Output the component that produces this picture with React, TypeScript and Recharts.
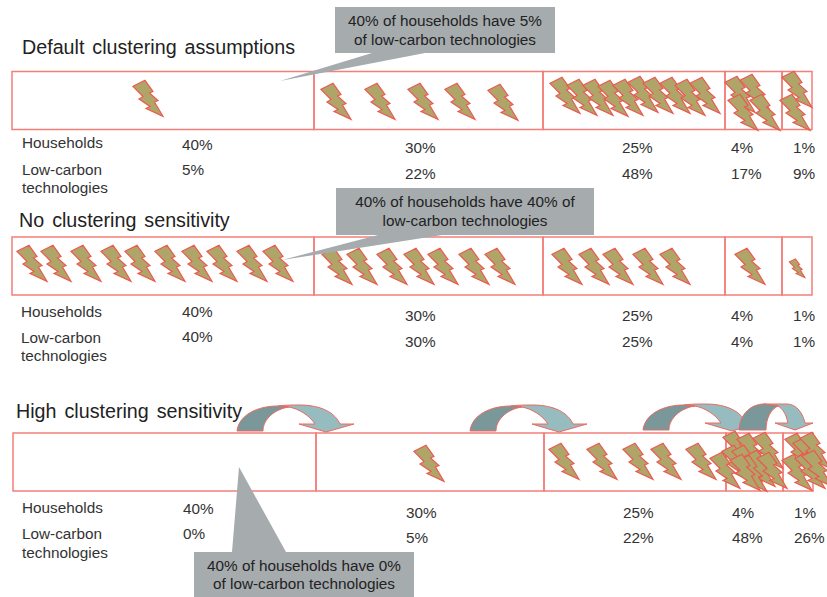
import { ReferenceArea, Scatter, ScatterChart, XAxis, YAxis } from 'recharts';

const WIDTH = 827;
const HEIGHT = 597;
const FONT = '"Liberation Sans", Arial, sans-serif';

type Point = { x: number; y: number };
type Label = Point & { text: string };

const titles = ['Default clustering assumptions', 'No clustering sensitivity', 'High clustering sensitivity'];
const householdShares = ['40%', '30%', '25%', '4%', '1%'];
const defaultTechShares = ['5%', '22%', '48%', '17%', '9%'];
const noClusterTechShares = ['40%', '30%', '25%', '4%', '1%'];
const highClusterTechShares = ['0%', '5%', '22%', '48%', '26%'];

// cell borders of each bar, in axis units
const upperBarEdges = [12, 314, 543, 725, 782, 812];
const lowerBarEdges = [13, 316, 544, 726, 783, 813];

// bolts, one per small share of the technologies
const defaultBolts: Point[] = [
  { x: 148, y: 98 },
  { x: 336, y: 101 }, { x: 380, y: 101 }, { x: 423, y: 101 }, { x: 460, y: 101 }, { x: 503, y: 102 },
  { x: 565, y: 95 }, { x: 582, y: 97 }, { x: 598, y: 97 }, { x: 613, y: 98 }, { x: 628, y: 97 },
  { x: 643, y: 94 }, { x: 658, y: 95 }, { x: 675, y: 95 }, { x: 690, y: 97 }, { x: 705, y: 95 },
  { x: 740, y: 94 }, { x: 755, y: 92 }, { x: 743, y: 112 }, { x: 765, y: 112 },
  { x: 797, y: 89 }, { x: 795, y: 112 },
];
const noClusterBolts: Point[] = [
  { x: 32, y: 263 }, { x: 56, y: 263 }, { x: 86, y: 263 }, { x: 116, y: 263 }, { x: 140, y: 263 },
  { x: 170, y: 263 }, { x: 197, y: 263 }, { x: 222, y: 263 }, { x: 252, y: 263 }, { x: 278, y: 263 },
  { x: 337, y: 266 }, { x: 362, y: 266 }, { x: 392, y: 266 }, { x: 419, y: 266 }, { x: 443, y: 266 },
  { x: 474, y: 266 }, { x: 500, y: 266 },
  { x: 567, y: 266 }, { x: 594, y: 266 }, { x: 618, y: 266 }, { x: 648, y: 266 }, { x: 675, y: 266 },
  { x: 750, y: 266 },
];
const noClusterSmallBolts: Point[] = [{ x: 797, y: 268 }];
const highClusterBolts: Point[] = [
  { x: 429, y: 463 },
  { x: 564, y: 461 }, { x: 602, y: 461 }, { x: 638, y: 461 }, { x: 666, y: 461 }, { x: 701, y: 461 },
  { x: 738, y: 449 }, { x: 752, y: 451 }, { x: 768, y: 450 }, { x: 725, y: 470 }, { x: 737, y: 463 },
  { x: 747, y: 463 }, { x: 760, y: 468 }, { x: 772, y: 470 }, { x: 752, y: 473 }, { x: 745, y: 472 },
  { x: 800, y: 451 }, { x: 797, y: 472 }, { x: 808, y: 455 }, { x: 815, y: 450 }, { x: 810, y: 470 }, { x: 817, y: 468 },
];

const wideArrows: Point[] = [{ x: 237, y: 405 }, { x: 470, y: 405 }, { x: 643, y: 404 }];
const narrowArrows: Point[] = [{ x: 739, y: 404 }];

const defaultCallout = ['40% of households have 5%', 'of low-carbon technologies'];
const noClusterCallout = ['40% of households have 40% of', 'low-carbon technologies'];
const highClusterCallout = ['40% of households have 0%', 'of low-carbon technologies'];

const titleLabels: Label[] = [
  { x: 22, y: 54, text: titles[0] },
  { x: 19, y: 227, text: titles[1] },
  { x: 16, y: 418, text: titles[2] },
];

const shareColumns = [182, 405, 622, 731, 793];

// one table per bar: row heading position, then the two rows of shares
function tableLabels(headX: number, headY: number[], rowY: number[][], shift: number, shares: string[]): Label[] {
  const out: Label[] = [
    { x: headX, y: headY[0], text: 'Households' },
    { x: headX, y: headY[1], text: 'Low-carbon' },
    { x: headX, y: headY[2], text: 'technologies' },
  ];
  shareColumns.forEach((col, i) => {
    const topY = i === 0 ? rowY[0][0] : rowY[0][1];
    const lowY = i === 0 ? rowY[1][0] : rowY[1][1];
    out.push({ x: col + shift, y: topY, text: householdShares[i] });
    out.push({ x: col + shift, y: lowY, text: shares[i] });
  });
  return out;
}

const tableText: Label[] = [
  ...tableLabels(22, [148, 175, 193], [[150, 153], [175, 179]], 0, defaultTechShares),
  ...tableLabels(21, [317, 343, 361], [[317, 321], [342, 347]], 0, noClusterTechShares),
  ...tableLabels(22, [513, 539, 558], [[514, 518], [539, 543]], 1, highClusterTechShares),
];

const calloutAnchors = [
  { x: 335, y: 7, lines: defaultCallout, textX: 110, textY: [19, 38], shape: '0,0 220,0 220,46 90,46 -55,74 37,46 0,46' },
  { x: 336, y: 188, lines: noClusterCallout, textX: 129, textY: [19, 38], shape: '0,0 258,0 258,47 106,47 -54,72 42,47 0,47' },
  { x: 194, y: 552, lines: highClusterCallout, textX: 110, textY: [19, 37], shape: '0,0 38,0 45,-85 92,0 220,0 220,45 0,45' },
];

const boltOutline = '-15,-11.7 -3,-17.7 5,-6.5 1.5,-5 10,2.5 6.5,4 15,18.3 -2,10.5 2,8.5 -9,1 -5,-1.5';

const Bolt = ({ cx, cy }: any) => (
  <polygon transform={`translate(${cx},${cy})`} points={boltOutline} fill="#b0a568" stroke="#ea5a50" strokeWidth={1.2} strokeLinejoin="miter" />
);

const SmallBolt = ({ cx, cy }: any) => (
  <polygon transform={`translate(${cx},${cy}) scale(0.52)`} points={boltOutline} fill="#b0a568" stroke="#ea5a50" strokeWidth={2} strokeLinejoin="miter" />
);

const WideArrow = ({ cx, cy }: any) => (
  <g transform={`translate(${cx},${cy})`} stroke="#ea6a60" strokeWidth={1} strokeLinejoin="round">
    <path d="M41,1 C47,0 55,0 62,0 C85,0 98,8 103,19 L117,19 L89,27 L62,19 L78,19 C72,10 62,4 52,2 Z" fill="#97bcc0" />
    <path d="M0,26 C2,10 20,1 41,1 L52,2 C38,4 26,14 26,26 Z" fill="#7a9799" />
  </g>
);

const NarrowArrow = ({ cx, cy }: any) => (
  <g transform={`translate(${cx},${cy})`} stroke="#ea6a60" strokeWidth={1} strokeLinejoin="round">
    <path d="M25,0 L48,0 C58,0 64,10 66,19 L74,19 L56,26 L36,19 L49,19 C47,10 44,5 39,2 Z" fill="#97bcc0" />
    <path d="M0,26 C1,9 13,0 25,0 L39,2 C32,5 27,14 27,26 Z" fill="#7a9799" />
  </g>
);

const TitleText = ({ cx, cy, payload }: any) => (
  <text x={cx} y={cy} fontFamily={FONT} fontSize={19.7} fill="#222" wordSpacing={2.5}>{payload.text}</text>
);

const TableText = ({ cx, cy, payload }: any) => (
  <text x={cx} y={cy} fontFamily={FONT} fontSize={15.3} fill="#333">{payload.text}</text>
);

const Callout = ({ cx, cy, payload }: any) => (
  <g transform={`translate(${cx},${cy})`}>
    <polygon points={payload.shape} fill="#a6abae" />
    {payload.lines.map((line: string, i: number) => (
      <text key={line} x={payload.textX} y={payload.textY[i]} textAnchor="middle" fontFamily={FONT} fontSize={15.3} fill="#222">{line}</text>
    ))}
  </g>
);

function barCells(edges: number[], top: number, bottom: number) {
  return edges.slice(0, -1).map((edge, i) => (
    <ReferenceArea
      key={`${top}-${edge}`}
      x1={edge}
      x2={edges[i + 1]}
      y1={top}
      y2={bottom}
      fill="none"
      fillOpacity={0}
      stroke="#f27f7a"
      strokeWidth={1.5}
      strokeOpacity={1}
    />
  ));
}

export default function App() {
  return (
    <div style={{ position: 'absolute', left: 0, top: 0, width: WIDTH, height: HEIGHT, background: '#fff' }}>
      <ScatterChart width={WIDTH} height={HEIGHT} margin={{ top: 0, right: 0, bottom: 0, left: 0 }}>
        <XAxis type="number" dataKey="x" domain={[0, WIDTH]} hide />
        <YAxis type="number" dataKey="y" domain={[0, HEIGHT]} reversed hide />
        {barCells(upperBarEdges, 71.5, 129.5)}
        {barCells(upperBarEdges, 237, 295)}
        {barCells(lowerBarEdges, 433, 491)}
        <Scatter data={titleLabels} shape={TitleText} isAnimationActive={false} />
        <Scatter data={tableText} shape={TableText} isAnimationActive={false} />
        <Scatter data={defaultBolts} shape={Bolt} isAnimationActive={false} />
        <Scatter data={noClusterBolts} shape={Bolt} isAnimationActive={false} />
        <Scatter data={noClusterSmallBolts} shape={SmallBolt} isAnimationActive={false} />
        <Scatter data={highClusterBolts} shape={Bolt} isAnimationActive={false} />
        <Scatter data={wideArrows} shape={WideArrow} isAnimationActive={false} />
        <Scatter data={narrowArrows} shape={NarrowArrow} isAnimationActive={false} />
        <Scatter data={calloutAnchors} shape={Callout} isAnimationActive={false} />
      </ScatterChart>
    </div>
  );
}
